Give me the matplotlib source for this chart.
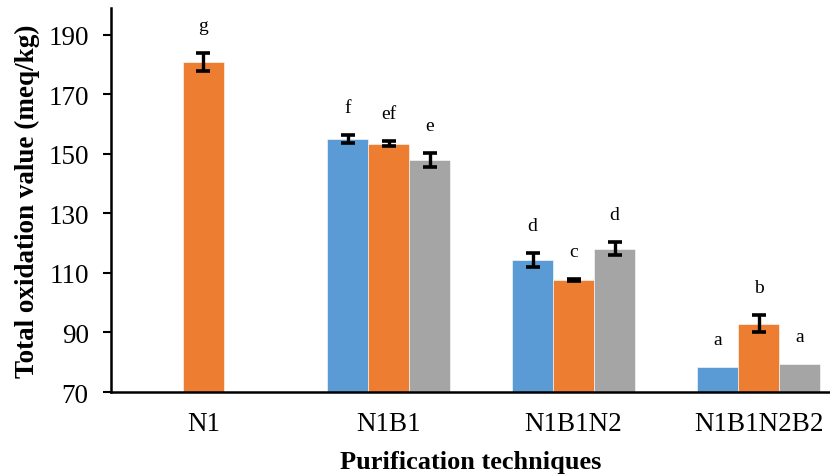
import numpy as np
import matplotlib
matplotlib.use("Agg")
import matplotlib.pyplot as plt

categories = ["N1", "N1B1", "N1B1N2", "N1B1N2B2"]
series1 = [np.nan, 155.0, 114.3, 78.4]
series2 = [180.8, 153.4, 107.6, 92.9]
series3 = [np.nan, 147.9, 118.2, 79.4]
err1 = [0, 1.2, 2.4, 0]
err2 = [3.0, 0.9, 0.3, 2.9]
err3 = [0, 2.4, 2.1, 0]
letters1 = ["", "f", "d", "a"]
letters2 = ["g", "ef", "c", "b"]
letters3 = ["", "e", "d", "a"]

colors = ["#5B9BD5", "#ED7D31", "#A5A5A5"]
plt.rcParams['font.family'] = ['Liberation Serif', 'DejaVu Serif']

fig = plt.figure(figsize=(8.3, 4.77), dpi=100)
ax = fig.add_axes([0.1337, 0.1761, 0.8663, 0.805])

x = np.arange(len(categories))
w = 0.2216
base = 70
for i, (vals, errs, labs) in enumerate([(series1, err1, letters1),
                                        (series2, err2, letters2),
                                        (series3, err3, letters3)]):
    xs = x + (i - 1) * w
    v = np.array(vals, dtype=float)
    ax.bar(xs, v - base, width=w, bottom=base, color=colors[i],
           edgecolor="white", linewidth=0.4, zorder=2)
    e = np.array(errs, dtype=float)
    mask = (~np.isnan(v)) & (e > 0)
    ax.errorbar(xs[mask], v[mask], yerr=e[mask], fmt="none", ecolor="black",
                elinewidth=2.4, capsize=5, capthick=2.6, zorder=3)
    for xi, vi, ei, li in zip(xs, v, e, labs):
        if li and not np.isnan(vi):
            ax.annotate(li, (xi, vi + ei), xytext=(0, 20), textcoords="offset points",
                        ha="center", va="center", fontsize=14)

ax.set_xlim(-0.5, 3.386)
ax.set_ylim(70, 199)
ax.set_yticks(np.arange(70, 191, 20))
ax.set_xticks(x)
ax.set_xticklabels(categories)
ax.tick_params(axis="x", length=0, pad=14, labelsize=19.5)
ax.tick_params(axis="y", length=6, width=1.5, pad=10, labelsize=19.5)
for s in ["top", "right"]:
    ax.spines[s].set_visible(False)
for s in ["left", "bottom"]:
    ax.spines[s].set_linewidth(1.8)
ax.set_ylabel("Total oxidation value (meq/kg)", fontsize=19.5, fontweight="bold", labelpad=6)
ax.set_xlabel("Purification techniques", fontsize=19, fontweight="bold", labelpad=10)

fig.savefig("out.png", dpi=100)
